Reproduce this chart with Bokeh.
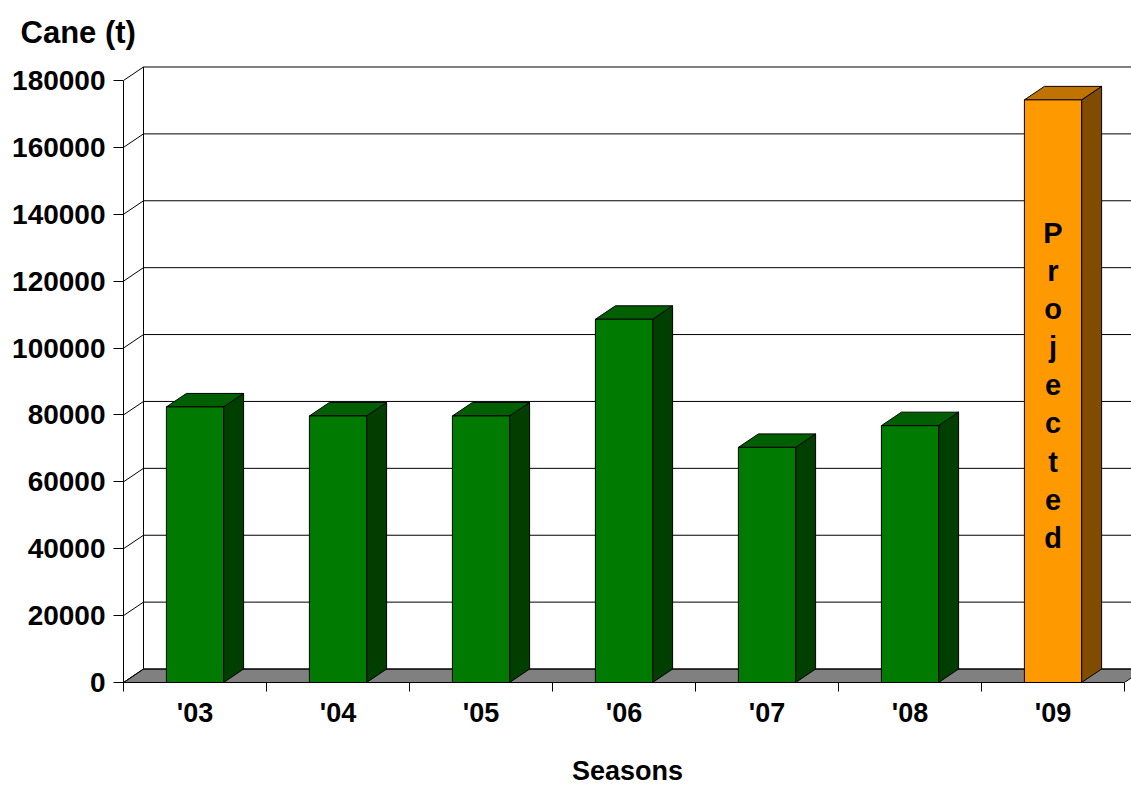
from bokeh.plotting import figure
from bokeh.models import Range1d, FixedTicker, BasicTickFormatter
from bokeh.embed import file_html
from bokeh.resources import INLINE

# Cane delivered per season (tonnes); the last season is a projection
seasons = ["'03", "'04", "'05", "'06", "'07", "'08", "'09"]
cane_t = [82400, 79700, 79700, 108600, 70300, 76800, 174200]
projected = [False, False, False, False, False, False, True]
y_ticks = [0, 20000, 40000, 60000, 80000, 100000, 120000, 140000, 160000, 180000]

FONT = "Liberation Sans"
N = len(seasons)

# frame geometry (pixels) used to derive data ranges
W, H = 1131, 789
LEFT, TOP, BOTTOM = 123, 60, 682
PX_PER_CAT = 143.0
PX_PER_VAL = 603.0 / 180000.0

# depth of the pseudo-3D box, expressed in data units
DX = 20.0 / PX_PER_CAT
DY = 13.5 / PX_PER_VAL
BAR_W = 0.4

x_end = (W - LEFT) / PX_PER_CAT
y_end = (BOTTOM - TOP) / PX_PER_VAL

p = figure(width=W, height=H, output_backend="svg", toolbar_location=None,
           x_range=Range1d(0, x_end), y_range=Range1d(0, y_end),
           min_border_left=LEFT, min_border_right=0, min_border_top=TOP,
           min_border_bottom=H - BOTTOM)
p.outline_line_color = None
p.grid.visible = False
p.background_fill_color = "white"
p.border_fill_color = "white"

# y axis caption
p.title.text = "Cane (t)"
p.title.align = "left"
p.title.offset = -103
p.title.standoff = 24
p.title.text_font = FONT
p.title.text_font_style = "bold"
p.title.text_font_size = "31px"
p.title.text_color = "black"

# floor
p.patch([0, N, N + DX, DX], [0, 0, DY, DY], fill_color="#808080",
        line_color="black", line_width=1)

# back wall gridlines and side-wall diagonals
p.segment(x0=[DX] * len(y_ticks), y0=[v + DY for v in y_ticks],
          x1=[N + DX] * len(y_ticks), y1=[v + DY for v in y_ticks],
          line_color="black", line_width=1)
p.segment(x0=[0] * len(y_ticks), y0=y_ticks,
          x1=[DX] * len(y_ticks), y1=[v + DY for v in y_ticks],
          line_color="black", line_width=1)
p.segment(x0=[DX], y0=[DY], x1=[DX], y1=[y_ticks[-1] + DY],
          line_color="black", line_width=1)

# bars: side, top and front faces
front_col = {False: "#007A00", True: "#FF9900"}
top_col = {False: "#005F00", True: "#C07300"}
side_col = {False: "#003F00", True: "#7F4C00"}

side_xs, side_ys, side_c = [], [], []
top_xs, top_ys, top_c = [], [], []
fl, fr, ft, fc = [], [], [], []
for i, (v, proj) in enumerate(zip(cane_t, projected)):
    l = i + 0.5 - BAR_W / 2
    r = i + 0.5 + BAR_W / 2
    side_xs.append([r, r + DX, r + DX, r])
    side_ys.append([0, DY, v + DY, v])
    side_c.append(side_col[proj])
    top_xs.append([l, r, r + DX, l + DX])
    top_ys.append([v, v, v + DY, v + DY])
    top_c.append(top_col[proj])
    fl.append(l)
    fr.append(r)
    ft.append(v)
    fc.append(front_col[proj])

p.patches(side_xs, side_ys, fill_color=side_c, line_color="black", line_width=1)
p.patches(top_xs, top_ys, fill_color=top_c, line_color="black", line_width=1)
p.quad(left=fl, right=fr, bottom=[0] * N, top=ft, fill_color=fc,
       line_color="black", line_width=1)

# vertical "Projected" caption inside the projected bar
for i, (v, proj) in enumerate(zip(cane_t, projected)):
    if proj:
        p.text(x=[i + 0.5], y=[v * 0.51], text=["\n".join("Projected")],
               text_align="center", text_baseline="middle",
               text_font_size="29px", text_font_style="bold",
               text_line_height=1.19, text_color="black",
               text_font={"value": FONT})

# y axis
ya = p.yaxis[0]
ya.ticker = FixedTicker(ticks=y_ticks)
ya.formatter = BasicTickFormatter(use_scientific=False)
ya.bounds = (0, y_ticks[-1])
ya.major_tick_out = 10
ya.major_tick_in = 0
ya.minor_tick_out = 0
ya.minor_tick_in = 0
ya.major_label_standoff = 8
ya.major_label_text_font = FONT
ya.major_label_text_font_style = "bold"
ya.major_label_text_font_size = "28px"
ya.major_label_text_color = "black"
ya.axis_line_color = "black"
ya.major_tick_line_color = "black"

# x axis: labels at category centres, tick marks at category boundaries
xa = p.xaxis[0]
xa.ticker = FixedTicker(ticks=[i + 0.5 for i in range(N)],
                        minor_ticks=list(range(N + 1)))
xa.major_label_overrides = {i + 0.5: s for i, s in enumerate(seasons)}
xa.bounds = (0, N)
xa.major_tick_out = 0
xa.major_tick_in = 0
xa.minor_tick_out = 9
xa.minor_tick_in = 0
xa.minor_tick_line_color = "black"
xa.axis_line_color = "black"
xa.major_label_standoff = 6
xa.major_label_text_font = FONT
xa.major_label_text_font_style = "bold"
xa.major_label_text_font_size = "27px"
xa.major_label_text_color = "black"
xa.axis_label = "Seasons"
xa.axis_label_text_font = FONT
xa.axis_label_text_font_style = "bold"
xa.axis_label_text_font_size = "27px"
xa.axis_label_text_color = "black"
xa.axis_label_standoff = 25

open("out.html", "w").write(file_html(p, INLINE))
